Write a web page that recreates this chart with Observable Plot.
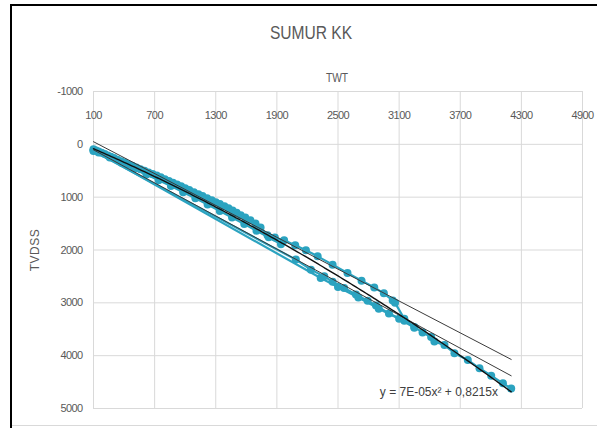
<!DOCTYPE html>
<html>
<head>
<meta charset="utf-8">
<script src="https://cdn.jsdelivr.net/npm/d3@7"></script>
<script src="https://cdn.jsdelivr.net/npm/@observablehq/plot@0.6"></script>
<style>
  body { margin: 0; background: #fff; }
  #wrap { position: relative; width: 597px; height: 428px; overflow: hidden; background: #fff;
          font-family: "Liberation Sans", "DejaVu Sans", sans-serif; color: #595959; }
  #wrap svg { position: absolute; left: 0; top: 0; }
  #wrap svg g[aria-label="x-axis tick label"] text,
  #wrap svg g[aria-label="y-axis tick label"] text { letter-spacing: -0.6px; }
  .ov { position: absolute; white-space: nowrap; }
  #title { left: 311px; top: 33px; transform: translate(-50%, -50%) scaleX(0.82); font-size: 19px; color: #595959; }
  #xlab { left: 337px; top: 78px; transform: translate(-50%, -50%) scaleX(0.85); font-size: 12px; color: #595959; }
  #ylab { left: 35px; top: 250px; transform: translate(-50%, -50%) rotate(-90deg); font-size: 12px; letter-spacing: 0.5px; color: #595959; }
  .fl { position: absolute; }
</style>
</head>
<body>
<div id="wrap">
  <div class="fl" style="left:10px;top:5px;width:2px;height:423px;background:#000"></div>
  <div class="fl" style="left:10px;top:4px;width:587px;height:2px;background:#000"></div>
  <div class="fl" style="left:12px;top:425px;width:585px;height:1px;background:#d9d9d9"></div>
</div>
<script>
// ---- data ----
const chartTitle = "SUMUR KK";
const xLabel = "TWT";
const yLabel = "TVDSS";
const xTicks = [100, 700, 1300, 1900, 2500, 3100, 3700, 4300, 4900];
const yTicks = [-1000, 0, 1000, 2000, 3000, 4000, 5000];

// main checkshot series (TWT ms, TVDSS m)
const mainTWT = [100,125,150,180,210,240,270,300,335,370,405,440,480,520,560,600,640,680,720,760,800,840,880,920,960,1000,1040,1085,1130,1170,1215,1260,1300,1340,1385,1425,1465,1505,1545,1590,1640,1690,1740,1808,1880,1971,2080,2185,2300,2447,2593,2731,2856,2950,3037,3060,3151,3249,3330,3414,3446,3545,3643,3774,3889,4004,4119,4200];
const mainTVDSS = [95,115,135,160,185,210,235,260,290,318,345,375,405,438,470,500,532,560,592,625,660,692,725,760,795,830,865,905,945,980,1020,1060,1095,1130,1170,1210,1250,1295,1340,1385,1435,1500,1575,1720,1765,1816,1910,2006,2120,2277,2436,2580,2710,2820,2956,3000,3301,3459,3560,3649,3732,3800,3954,4080,4239,4378,4524,4620];

// second pass (teal points lying along the trend, under the black lines)
const passDTWT = [150,260,380,500,620,740,860,980,1100,1220,1340,1460,1580,1700,1820,1940];
const passDTVDSS = [155,250,355,460,570,680,790,905,1020,1140,1260,1385,1510,1635,1760,1890];

// lower passes (teal lines below the points)
const passBTWT = [100,2086,2234,2365,2447,2560,2676,2791,2873,3000,3151];
const passBTVDSS = [127,2182,2372,2499,2600,2720,2840,2960,3050,3200,3340];
const passCTWT = [100,2330,2500,2700,2900,3100,3249];
const passCTVDSS = [110,2531,2700,2900,3110,3300,3470];

// trendlines
const polyA = 7e-5, polyB = 0.8215;          // y = 7E-05x² + 0,8215x
const lin1Slope = 1.005, lin1Int = -150;
const lin2Slope = 1.043, lin2Int = 0;
const trendRange = [100, 4200];
const eqLabel = "y = 7E-05x\u00B2 + 0,8215x";

// ---- build tables ----
const zip = (xs, ys, s) => xs.map((x, i) => ({twt: x, tvdss: ys[i], s}));
const allPts = [
  ...zip(mainTWT, mainTVDSS, "A"),
  ...zip(passDTWT, passDTVDSS, "D"),
  ...zip(passBTWT, passBTVDSS, "B"),
  ...zip(passCTWT, passCTVDSS, "C")
];

const polyPts = d3.range(trendRange[0], trendRange[1] + 1, 25).map(x => ({twt: x, tvdss: polyA * x * x + polyB * x}));
const lin1 = trendRange.map(x => ({twt: x, tvdss: lin1Slope * x + lin1Int}));
const lin2 = trendRange.map(x => ({twt: x, tvdss: lin2Slope * x + lin2Int}));

const teal = "#2ba3c0";
const fmt = d => String(d);
const ff = '"Liberation Sans", "DejaVu Sans", sans-serif';

const plot = Plot.plot({
  width: 597,
  height: 428,
  marginLeft: 93,
  marginRight: 15,
  marginTop: 91,
  marginBottom: 20,
  style: {fontFamily: ff, fontSize: "11px", color: "#595959", background: "transparent"},
  x: {domain: [100, 4900]},
  y: {domain: [-1000, 5000], reverse: true},
  marks: [
    Plot.gridX(xTicks, {stroke: "#d9d9d9", strokeOpacity: 1}),
    Plot.gridY(yTicks, {stroke: "#d9d9d9", strokeOpacity: 1}),
    Plot.axisX(xTicks, {anchor: "top", tickSize: 0, tickPadding: 0, dy: 24, lineAnchor: "middle", label: null, tickFormat: fmt, fill: "#595959"}),
    Plot.axisY(yTicks, {anchor: "left", tickSize: 0, tickPadding: 11, label: null, tickFormat: fmt, fill: "#595959"}),
    Plot.line(allPts, {x: "twt", y: "tvdss", z: "s", stroke: teal, strokeWidth: 2.2}),
    Plot.dot(allPts, {x: "twt", y: "tvdss", r: 4, fill: teal, stroke: "none"}),
    Plot.line(lin1, {x: "twt", y: "tvdss", stroke: "#3a3a3a", strokeWidth: 1}),
    Plot.line(lin2, {x: "twt", y: "tvdss", stroke: "#3a3a3a", strokeWidth: 1}),
    Plot.line(polyPts, {x: "twt", y: "tvdss", stroke: "#111", strokeWidth: 1.4}),
    Plot.text([eqLabel], {x: 3490, y: 4700, text: d => d, fontSize: 12, fill: "#404040"})
  ]
});

const wrap = document.getElementById("wrap");
wrap.insertBefore(plot, wrap.firstChild);
for (const [id, txt] of [["title", chartTitle], ["xlab", xLabel], ["ylab", yLabel]]) {
  const d = document.createElement("div");
  d.className = "ov"; d.id = id; d.textContent = txt;
  wrap.appendChild(d);
}
</script>
</body>
</html>
